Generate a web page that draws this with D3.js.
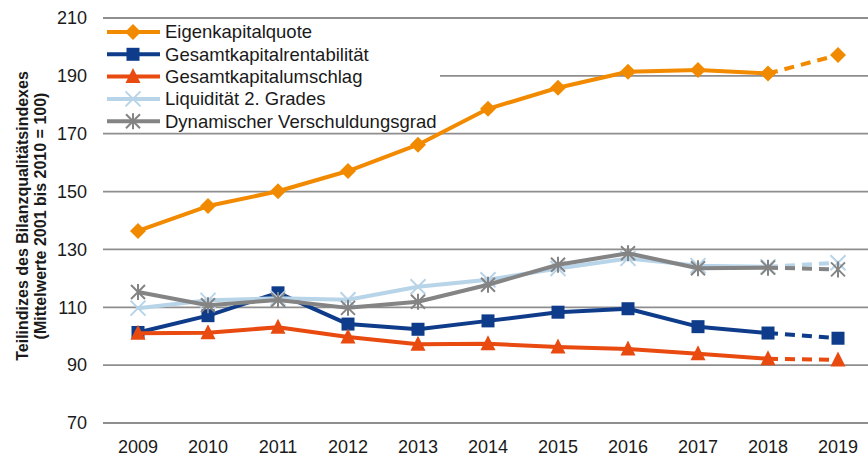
<!DOCTYPE html>
<html><head><meta charset="utf-8">
<script src="https://cdn.jsdelivr.net/npm/d3@7"></script>
<style>
html,body{margin:0;padding:0;background:#fff;}
svg{display:block;font-family:"Liberation Sans",Arial,sans-serif;}
</style></head>
<body><svg id="c" width="868" height="456"></svg>
<script>
const years = ["2009","2010","2011","2012","2013","2014","2015","2016","2017","2018","2019"];
const yTicks = [70, 90, 110, 130, 150, 170, 190, 210];

const eigenkapitalquote = [136.4, 145.0, 150.1, 157.1, 166.2, 178.6, 185.9, 191.4, 192.0, 190.8, 197.2];
const gesamtkapitalrentabilitaet = [101.3, 107.1, 115.0, 104.2, 102.4, 105.3, 108.3, 109.5, 103.3, 101.1, 99.3];
const gesamtkapitalumschlag = [101.0, 101.2, 103.1, 99.7, 97.2, 97.4, 96.3, 95.6, 93.9, 92.2, 91.8];
const liquiditaet2 = [109.7, 112.4, 113.1, 112.6, 117.1, 119.5, 123.4, 126.9, 124.4, 124.0, 125.4];
const dynVerschuldungsgrad = [115.3, 110.7, 112.5, 109.8, 111.9, 117.8, 124.7, 128.7, 123.5, 123.7, 123.1];

const series = [
  {name:"Eigenkapitalquote", values:eigenkapitalquote, color:"#F28A00", marker:"diamond"},
  {name:"Gesamtkapitalrentabilität", values:gesamtkapitalrentabilitaet, color:"#0E3C8A", marker:"square"},
  {name:"Gesamtkapitalumschlag", values:gesamtkapitalumschlag, color:"#E84A10", marker:"triangle"},
  {name:"Liquidität 2. Grades", values:liquiditaet2, color:"#B8D4E8", marker:"x"},
  {name:"Dynamischer Verschuldungsgrad", values:dynVerschuldungsgrad, color:"#848484", marker:"star"}
];

const svg = d3.select("#c");
const plotL = 103, plotR = 873, plotT = 18, plotB = 423;

const x = d3.scaleBand().domain(years).range([plotL, plotR]);
const xc = d => x(d) + x.bandwidth() / 2;
const y = d3.scaleLinear().domain([70, 210]).range([plotB, plotT]);

// gridlines
const grid = svg.append("g");
grid.selectAll("line").data(yTicks).join("line")
  .attr("x1", plotL).attr("x2", plotR)
  .attr("y1", d => y(d)).attr("y2", d => y(d))
  .attr("stroke", "#8E8E8E").attr("stroke-width", 1.8);

// y axis labels
const yAxis = d3.axisLeft(y).tickValues(yTicks).tickSize(0).tickPadding(0);
const gy = svg.append("g").attr("transform", `translate(${plotL - 16},0)`).call(yAxis);
gy.select(".domain").remove();
gy.selectAll("text").attr("font-size", 18).attr("fill", "#1a1a1a")
  .attr("font-family", "Liberation Sans, Arial, sans-serif");

// x axis labels
const xAxis = d3.axisBottom(x).tickSize(0).tickPadding(0);
const gx = svg.append("g").attr("transform", `translate(0,${plotB + 17})`).call(xAxis);
gx.select(".domain").remove();
gx.selectAll("text").attr("font-size", 18).attr("fill", "#1a1a1a")
  .attr("font-family", "Liberation Sans, Arial, sans-serif");

// y axis title
const title = svg.append("text")
  .attr("transform", "translate(28,216) rotate(-90)")
  .attr("text-anchor", "middle").attr("font-weight", "bold")
  .attr("font-size", 16).attr("fill", "#1a1a1a");
title.append("tspan").attr("x", 0).attr("dy", 0).text("Teilindizes des Bilanzqualitätsindexes");
title.append("tspan").attr("x", 0).attr("dy", 18).text("(Mittelwerte 2001 bis 2010 = 100)");

// marker drawing
function drawMarker(g, type, cx, cy, color) {
  if (type === "diamond") {
    const s = 8;
    g.append("path").attr("d", `M${cx},${cy-s}L${cx+s},${cy}L${cx},${cy+s}L${cx-s},${cy}Z`).attr("fill", color);
  } else if (type === "square") {
    const s = 6.5;
    g.append("rect").attr("x", cx - s).attr("y", cy - s).attr("width", 2*s).attr("height", 2*s).attr("fill", color);
  } else if (type === "triangle") {
    const s = 7.5;
    g.append("path").attr("d", `M${cx},${cy-s-1}L${cx+s},${cy+s-1}L${cx-s},${cy+s-1}Z`).attr("fill", color);
  } else if (type === "x") {
    const s = 7.5;
    g.append("path").attr("d", `M${cx-s},${cy-s}L${cx+s},${cy+s}M${cx-s},${cy+s}L${cx+s},${cy-s}`)
      .attr("stroke", color).attr("stroke-width", 2);
  } else if (type === "star") {
    const s = 7;
    g.append("path").attr("d",
      `M${cx-s},${cy-s}L${cx+s},${cy+s}M${cx-s},${cy+s}L${cx+s},${cy-s}M${cx},${cy-s-1}L${cx},${cy+s+1}`)
      .attr("stroke", color).attr("stroke-width", 2);
  }
}

const line = d3.line().x(d => xc(d.year)).y(d => y(d.v));

series.forEach(s => {
  const g = svg.append("g");
  const pts = years.map((yr, i) => ({year: yr, v: s.values[i]}));
  const solid = pts.slice(0, pts.length - 1);
  const dashed = pts.slice(pts.length - 2);
  g.append("path").datum(solid).attr("d", line).attr("fill", "none")
    .attr("stroke", s.color).attr("stroke-width", 4).attr("stroke-linejoin", "round");
  g.append("path").datum(dashed).attr("d", line).attr("fill", "none")
    .attr("stroke", s.color).attr("stroke-width", 4).attr("stroke-dasharray", "10,7");
  pts.forEach(p => drawMarker(g, s.marker, xc(p.year), y(p.v), s.color));
});

// legend
const lg = svg.append("g");
lg.append("rect").attr("x", plotL - 1).attr("y", 22).attr("width", 338).attr("height", 108).attr("fill", "#fff");
series.forEach((s, i) => {
  const ly = 32 + i * 22.3;
  lg.append("line").attr("x1", 107).attr("x2", 160).attr("y1", ly).attr("y2", ly)
    .attr("stroke", s.color).attr("stroke-width", 4);
  drawMarker(lg, s.marker, 133, ly, s.color);
  lg.append("text").attr("x", 165).attr("y", ly).attr("dy", "0.35em")
    .attr("font-size", 18.5).attr("fill", "#1a1a1a").text(s.name);
});
</script></body></html>
